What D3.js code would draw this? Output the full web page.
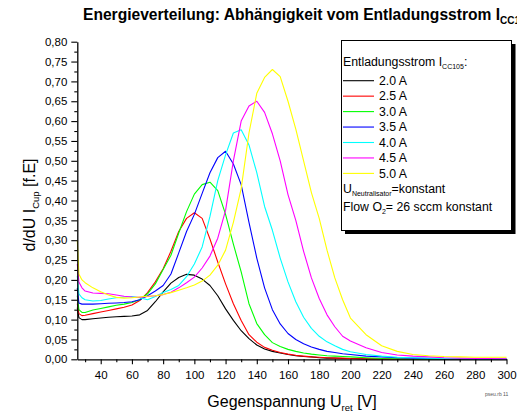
<!DOCTYPE html>
<html>
<head>
<meta charset="utf-8">
<script src="https://cdn.jsdelivr.net/npm/d3@7"></script>
<style>
  html, body { margin: 0; padding: 0; background: #fff; }
  svg { display: block; font-family: "Liberation Sans", Arial, sans-serif; }
</style>
</head>
<body>
<svg id="chart" width="517" height="414"></svg>
<script>
// Retarding voltage U_ret [V]
const voltage = [25, 26, 28, 30, 35, 40, 45, 50, 55, 60, 65, 70, 75, 80, 85, 90, 95, 100,
  105, 110, 115, 120, 125, 130, 135, 140, 145, 150, 155, 160, 165, 170, 175, 180, 185, 190,
  195, 200, 210, 220, 230, 240, 250, 260, 270, 280, 290, 300];

// d/dU I_Cup for each discharge current
const i20 = [0.130, 0.105, 0.100, 0.100, 0.102, 0.104, 0.106, 0.107, 0.108, 0.109, 0.112, 0.123,
  0.145, 0.170, 0.192, 0.206, 0.214, 0.212, 0.202, 0.186, 0.160, 0.127, 0.098, 0.072, 0.052,
  0.036, 0.026, 0.020, 0.016, 0.012, 0.009, 0.007, 0.006, 0.004, 0.003, 0.003, 0.002, 0.002,
  0.001, 0.001, 0, 0, 0, 0, 0, 0, 0, 0];
const i25 = [0.140, 0.115, 0.110, 0.111, 0.115, 0.119, 0.123, 0.127, 0.131, 0.137, 0.148, 0.168,
  0.195, 0.228, 0.272, 0.322, 0.355, 0.369, 0.355, 0.303, 0.245, 0.190, 0.140, 0.098, 0.062,
  0.043, 0.030, 0.023, 0.017, 0.013, 0.010, 0.008, 0.006, 0.005, 0.004, 0.003, 0.003, 0.002,
  0.001, 0.001, 0, 0, 0, 0, 0, 0, 0, 0];
const i30 = [0.160, 0.125, 0.118, 0.118, 0.124, 0.128, 0.132, 0.136, 0.139, 0.143, 0.150, 0.165,
  0.190, 0.226, 0.262, 0.318, 0.372, 0.416, 0.440, 0.446, 0.425, 0.365, 0.290, 0.220, 0.140,
  0.090, 0.062, 0.042, 0.032, 0.025, 0.020, 0.016, 0.013, 0.011, 0.009, 0.008, 0.007, 0.006,
  0.004, 0.002, 0.001, 0, 0, 0, 0, 0, 0, 0];
const i35 = [0.180, 0.142, 0.139, 0.139, 0.139, 0.140, 0.141, 0.142, 0.143, 0.145, 0.150, 0.160,
  0.172, 0.186, 0.215, 0.268, 0.322, 0.365, 0.418, 0.470, 0.508, 0.524, 0.492, 0.440, 0.345,
  0.255, 0.180, 0.125, 0.089, 0.065, 0.050, 0.039, 0.031, 0.025, 0.020, 0.017, 0.014, 0.012,
  0.008, 0.006, 0.004, 0.003, 0.002, 0.001, 0.001, 0, 0, 0];
const i40 = [0.210, 0.165, 0.155, 0.150, 0.147, 0.148, 0.152, 0.155, 0.157, 0.158, 0.155, 0.150,
  0.158, 0.168, 0.176, 0.186, 0.208, 0.240, 0.283, 0.360, 0.450, 0.515, 0.570, 0.578, 0.540,
  0.470, 0.385, 0.325, 0.255, 0.195, 0.145, 0.106, 0.078, 0.058, 0.044, 0.034, 0.025, 0.019,
  0.012, 0.008, 0.005, 0.004, 0.003, 0.002, 0.002, 0.001, 0.001, 0.001];
const i45 = [0.240, 0.195, 0.180, 0.172, 0.167, 0.166, 0.165, 0.162, 0.159, 0.157, 0.156, 0.158,
  0.160, 0.163, 0.169, 0.180, 0.193, 0.207, 0.230, 0.260, 0.305, 0.375, 0.500, 0.600, 0.638,
  0.650, 0.622, 0.568, 0.500, 0.415, 0.350, 0.272, 0.205, 0.153, 0.112, 0.082, 0.058, 0.046,
  0.029, 0.017, 0.011, 0.008, 0.006, 0.004, 0.003, 0.002, 0.002, 0.001];
const i50 = [0.300, 0.215, 0.200, 0.193, 0.180, 0.170, 0.162, 0.156, 0.154, 0.155, 0.157, 0.159,
  0.160, 0.163, 0.168, 0.174, 0.180, 0.187, 0.197, 0.212, 0.237, 0.275, 0.345, 0.430, 0.570,
  0.670, 0.710, 0.730, 0.712, 0.650, 0.580, 0.500, 0.420, 0.355, 0.275, 0.205, 0.150, 0.104,
  0.062, 0.034, 0.020, 0.012, 0.009, 0.007, 0.006, 0.005, 0.005, 0.005];

const seriesNames = ["2.0 A", "2.5 A", "3.0 A", "3.5 A", "4.0 A", "4.5 A", "5.0 A"];
const seriesColors = ["#000000", "#ff0000", "#00ff00", "#0000ff", "#00ffff", "#ff00ff", "#ffff00"];
const seriesValues = [i20, i25, i30, i35, i40, i45, i50];

const xMajor = d3.range(40, 301, 20);
const xMinor = d3.range(30, 300, 20);
const yMajor = d3.range(0, 16.5).map(i => i * 0.05);
const yMinor = d3.range(0, 16).map(i => i * 0.05 + 0.025);

const svg = d3.select("#chart");
svg.append("rect").attr("width", 517).attr("height", 414).attr("fill", "#fff");

const x = d3.scaleLinear().domain([25, 300]).range([77.3, 506.5]);
const y = d3.scaleLinear().domain([0, 0.8]).range([359.3, 41.7]);

// curves
const line = d3.line()
  .x((d, i) => x(voltage[i]))
  .y(d => y(d));

svg.append("g").selectAll("path")
  .data(seriesValues)
  .join("path")
  .attr("d", d => line(d))
  .attr("fill", "none")
  .attr("stroke", (d, i) => seriesColors[i])
  .attr("stroke-width", 1.1)
  .attr("stroke-linejoin", "round");

// axes
const fmt = d => d3.format(".2f")(d).replace(".", ",");
svg.append("g").attr("transform", `translate(${x(25)},0)`)
  .call(d3.axisLeft(y).tickValues(yMajor).tickFormat(fmt).tickSize(6).tickSizeOuter(0).tickPadding(4));
svg.append("g").attr("transform", `translate(${x(25)},0)`)
  .call(d3.axisLeft(y).tickValues(yMinor).tickFormat("").tickSize(3).tickSizeOuter(0))
  .select(".domain").remove();

svg.append("g").attr("transform", `translate(0,${y(0)})`)
  .call(d3.axisBottom(x).tickValues(xMajor).tickSize(5).tickSizeOuter(0).tickPadding(7));
svg.append("g").attr("transform", `translate(0,${y(0)})`)
  .call(d3.axisBottom(x).tickValues(xMinor).tickFormat("").tickSize(3).tickSizeOuter(0))
  .select(".domain").remove();

svg.selectAll(".domain").attr("stroke-width", 1.3);
svg.selectAll(".tick line").attr("stroke-width", 1.1);
svg.selectAll(".tick text")
  .attr("font-family", "'Liberation Sans', Arial, sans-serif")
  .attr("font-size", 11.5)
  .attr("fill", "#000");

// title (its subscript runs past the right edge of the page)
const title = svg.append("text")
  .attr("x", 83).attr("y", 20)
  .attr("font-size", 15.6).attr("font-weight", "bold");
title.append("tspan").text("Energieverteilung: Abhängigkeit vom Entladungsstrom I");
title.append("tspan").attr("font-size", 10).attr("dy", 4).text("CC105");

// axis titles
const yt = svg.append("text")
  .attr("transform", "translate(35,205) rotate(-90)")
  .attr("text-anchor", "middle")
  .attr("font-size", 16);
yt.append("tspan").text("d/dU I");
yt.append("tspan").attr("font-size", 9.5).attr("dy", 4).text("Cup");
yt.append("tspan").attr("dy", -4).text(" [f.E]");

const xt = svg.append("text")
  .attr("x", 292).attr("y", 407)
  .attr("text-anchor", "middle")
  .attr("font-size", 16);
xt.append("tspan").text("Gegenspannung U");
xt.append("tspan").attr("font-size", 9.5).attr("dy", 3.5).text("ret");
xt.append("tspan").attr("dy", -3.5).text(" [V]");

svg.append("text")
  .attr("x", 485).attr("y", 396)
  .attr("font-size", 5).attr("fill", "#555")
  .text("pseu.rb 11");

// legend box with drop shadow
const lg = svg.append("g");
lg.append("rect").attr("x", 345).attr("y", 44).attr("width", 170.5).attr("height", 190)
  .attr("fill", "#000");
lg.append("rect").attr("x", 341.5).attr("y", 40.5).attr("width", 170).attr("height", 190)
  .attr("fill", "#fff").attr("stroke", "#000").attr("stroke-width", 1);

const lt = lg.append("text").attr("x", 343).attr("y", 66).attr("font-size", 12.3);
lt.append("tspan").text("Entladungsstrom I");
lt.append("tspan").attr("font-size", 7).attr("dy", 3).text("CC105");
lt.append("tspan").attr("dy", -3).text(":");

const rows = lg.selectAll("g.row")
  .data(seriesNames)
  .join("g")
  .attr("class", "row")
  .attr("transform", (d, i) => `translate(0,${80.7 + i * 15.45})`);
rows.append("line")
  .attr("x1", 343).attr("x2", 374)
  .attr("stroke", (d, i) => seriesColors[i])
  .attr("stroke-width", 1.1);
rows.append("text")
  .attr("x", 379).attr("y", 4.3)
  .attr("font-size", 12.3)
  .text(d => d);

const un = lg.append("text").attr("x", 343).attr("y", 193).attr("font-size", 12.3);
un.append("tspan").text("U");
un.append("tspan").attr("font-size", 7).attr("dy", 3).text("Neutralisator");
un.append("tspan").attr("dy", -3).text("=konstant");

const fl = lg.append("text").attr("x", 343).attr("y", 211).attr("font-size", 12.3);
fl.append("tspan").text("Flow O");
fl.append("tspan").attr("font-size", 7).attr("dy", 3).text("2");
fl.append("tspan").attr("dy", -3).text("= 26 sccm konstant");
</script>
</body>
</html>
